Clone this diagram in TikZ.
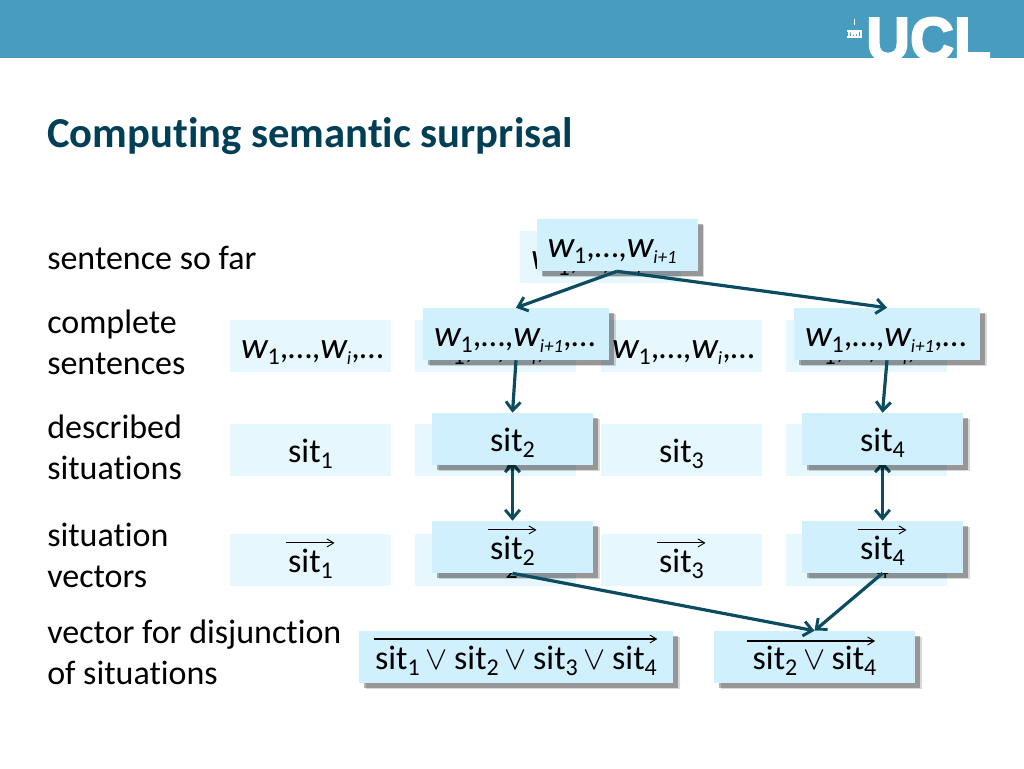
\documentclass[tikz,border=0pt]{standalone}
\usepackage{fontspec}
\setmainfont[Ligatures=NoCommon]{Carlito}
\newfontfamily\uclfont[FakeBold=3.5]{Liberation Sans Bold}
\usetikzlibrary{shadows,arrows.meta}
\pgfdeclarelayer{backrow}\pgfdeclarelayer{under}\pgfdeclarelayer{front}
\pgfsetlayers{backrow,under,main,front}
\definecolor{band}{HTML}{479CBF}
\definecolor{ttl}{HTML}{003F55}
\definecolor{arrowc}{HTML}{0B4C60}
\definecolor{backc}{HTML}{E6F7FD}
\definecolor{frontc}{HTML}{D0F0FD}
\newcommand{\dn}[1]{\raisebox{-.36ex}{\fontsize{18}{18}\selectfont #1}}
\newcommand{\wrd}[1]{{\fontsize{28}{28}\selectfont\itshape w}\dn{#1}}
\newcommand{\idx}[1]{{\fontsize{28}{28}\selectfont\itshape w}\raisebox{-.36ex}{\fontsize{14}{14}\selectfont\itshape #1}}
\newcommand{\sitn}[1]{sit\dn{#1}}
\newcommand{\orr}{\hspace{.18em}$\vee$\hspace{.18em}}
\newcommand{\lftn}[1]{\makebox[120.75pt][l]{\hspace{8.25pt}#1}}
\newcommand{\lftw}[1]{\makebox[139.5pt][l]{\hspace{8.25pt}#1}}
\tikzset{
  x=.75pt,y=-.75pt,
  lbl/.style={anchor=west,align=left,inner sep=0pt,font=\fontsize{25.5}{30.75}\selectfont,text=black},
  cell/.style={fill=backc,inner sep=0pt,minimum height=39pt,minimum width=120.75pt,text height=19pt,text depth=0pt,font=\fontsize{25.5}{27}\selectfont,text=black},
  raised/.style={fill=frontc,inner sep=0pt,minimum height=39pt,minimum width=120.75pt,text height=19pt,text depth=0pt,font=\fontsize{25.5}{27}\selectfont,text=black,
    drop shadow={shadow xshift=5pt,shadow yshift=-4.5pt,fill=black,opacity=.15},
    drop shadow={shadow xshift=4pt,shadow yshift=-3.5pt,fill=black,opacity=.3}},
  wide/.style={minimum width=139.5pt},
  link/.style={draw=arrowc,line width=2.4pt,-{Straight Barb[length=6.5pt,width=11pt,line width=2.2pt]}},
  bothlink/.style={draw=arrowc,line width=2.4pt,{Straight Barb[length=6.5pt,width=11pt,line width=2.2pt]}-{Straight Barb[length=6.5pt,width=11pt,line width=2.2pt]}},
  over/.style={draw=black,line width=.8pt,-{Straight Barb[length=5pt,width=6pt,line width=.7pt]}},
}
\begin{document}
\begin{tikzpicture}
\useasboundingbox (0,0) rectangle (1024,768);
\fill[band] (0,0) rectangle (1024,58);
% logo
\begin{scope}
\clip (0,0) rectangle (1024,58);
\node[anchor=base west,inner sep=0pt,text=white,font=\uclfont\fontsize{45.5}{45.5}\selectfont] (ucl) at (866,60) {UCL};
\end{scope}
\fill[white] (853.8,19) rectangle (855.2,25);
\fill[white] (849.5,30) arc[start angle=180,end angle=0,radius=5];
\fill[white] (847,30) rectangle (862,31.5);
\foreach \cx in {848.5,851.5,854.5,857.5,860.5} \fill[white] (\cx-1,31) rectangle (\cx+1,36);
\fill[white] (847,35.5) rectangle (862,38);
% title
\node[anchor=base west,inner sep=0pt,text=ttl,font=\fontsize{32}{36}\selectfont\bfseries] (title) at (47,147) {Computing semantic surprisal};
% labels
\node[lbl] (l1) at (47,258) {sentence so far};
\node[lbl] (l2) at (47,342) {complete\\sentences};
\node[lbl] (l3) at (47,447) {described\\situations};
\node[lbl] (l4) at (47,555) {situation\\vectors};
\node[lbl] (l5) at (47,652) {vector for disjunction\\of situations};
\begin{pgfonlayer}{backrow}
\node[cell] (b0) at (600.5,256.5) {\lftn{\wrd{1},…,\idx{i}}};
\node[cell] (w1) at (310.5,345.5) {\lftn{\wrd{1},…,\idx{i},…}};
\node[cell] (wb2) at (495.5,345.5) {\lftn{\wrd{1},…,\idx{i},…}};
\node[cell] (w3) at (681.5,345.5) {\lftn{\wrd{1},…,\idx{i},…}};
\node[cell] (wb4) at (866.5,345.5) {\lftn{\wrd{1},…,\idx{i},…}};
\node[cell] (s1) at (310.5,450) {\sitn{1}};
\node[cell] (sb2) at (495.5,450) {\sitn{2}};
\node[cell] (s3) at (681.5,450) {\sitn{3}};
\node[cell] (sb4) at (866.5,450) {\sitn{4}};
\node[cell] (v1) at (310.5,560) {\sitn{1}};
\node[cell] (vb2) at (495.5,560) {\sitn{2}};
\node[cell] (v3) at (681.5,560) {\sitn{3}};
\node[cell] (vb4) at (866.5,560) {\sitn{4}};
\foreach \n in {v1,vb2,v3,vb4}
  \draw[over] ([xshift=-18.5pt,yshift=12.8pt]\n.center) -- ([xshift=18pt,yshift=12.8pt]\n.center);
\end{pgfonlayer}
% raised boxes
\node[raised] (top) at (617,245) {\lftn{\wrd{1},…,\idx{i+1}}};
\node[raised,wide] (w2) at (516,334) {\lftw{\wrd{1},…,\idx{i+1},…}};
\node[raised,wide] (w4) at (887,334) {\lftw{\wrd{1},…,\idx{i+1},…}};
\node[raised] (s2) at (512.5,439) {\sitn{2}};
\node[raised] (s4) at (882.5,439) {\sitn{4}};
\node[raised] (v2) at (512.5,547) {\sitn{2}};
\node[raised] (v4) at (882.5,547) {\sitn{4}};
\node[raised,minimum width=235.5pt] (d1) at (516,657) {\sitn{1}\orr\sitn{2}\orr\sitn{3}\orr\sitn{4}};
\node[raised,minimum width=150.75pt] (d2) at (814.5,657) {\sitn{2}\orr\sitn{4}};
\begin{pgfonlayer}{under}
\draw[bothlink] ([yshift=3pt]s2.south) -- (v2.north);
\draw[bothlink] ([yshift=3pt]s4.south) -- (v4.north);
\end{pgfonlayer}
\begin{pgfonlayer}{front}
\draw[link] (top.south) -- (w2.north);
\draw[link] (top.south) -- (w4.north);
\draw[link] (w2.south) -- (s2.north);
\draw[link] (w4.south) -- (s4.north);
\draw[link] (v2.south) -- (d2.north);
\draw[link] (v4.south) -- (d2.north);
\foreach \n in {v2,v4}
  \draw[over] ([xshift=-18.5pt,yshift=12.8pt]\n.center) -- ([xshift=18pt,yshift=12.8pt]\n.center);
\draw[over] ([xshift=-106.5pt,yshift=13.5pt]d1.center) -- ([xshift=106pt,yshift=13.5pt]d1.center);
\draw[over] ([xshift=-51pt,yshift=12pt]d2.center) -- ([xshift=45.5pt,yshift=12pt]d2.center);
\end{pgfonlayer}
\end{tikzpicture}
\end{document}
